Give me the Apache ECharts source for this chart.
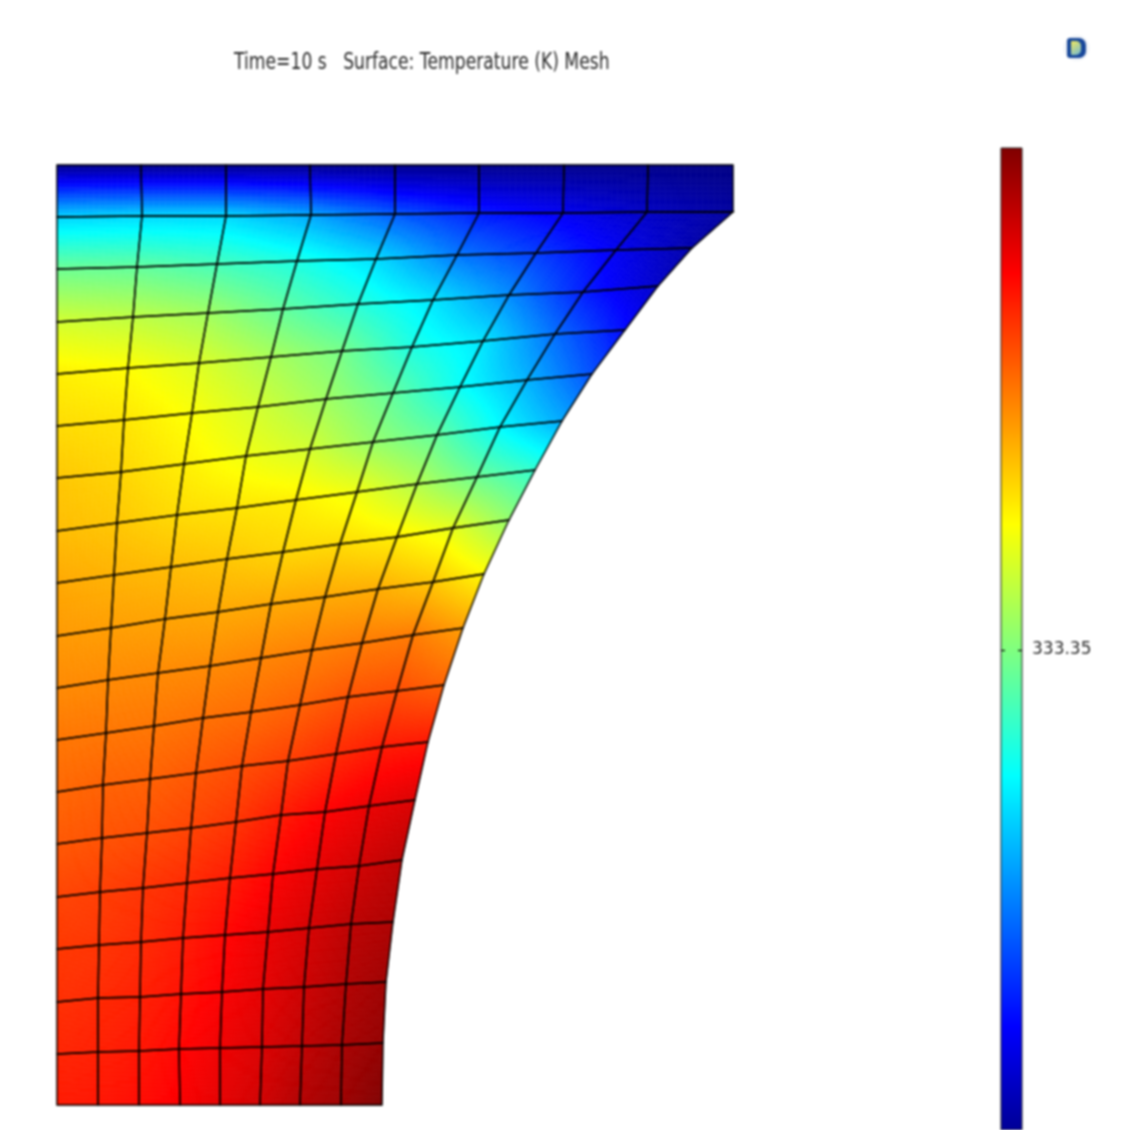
<!DOCTYPE html>
<html>
<head>
<meta charset="utf-8">
<style>html,body{margin:0;padding:0;background:#fff;overflow:hidden}#c{width:1135px;height:1130px;filter:blur(0.8px)}</style>
<script src="https://cdn.jsdelivr.net/npm/echarts@6/dist/echarts.min.js"></script>
</head>
<body>
<div id="c"></div>
<script>
const titleText = 'Time=10 s   Surface: Temperature (K) Mesh';
const colorbarTicks = [333.35];
const tempMin = 283.35, tempMax = 383.35;   // range of the colour scale
const barVisibleMin = 285.55;               // the bar is cut by the page edge here

// mesh node positions, row by row from the top edge, 9 nodes per row
const nodeX = [
[0,84,169,253,338,422,507,591,676],
[0,85,169,254,338,422,506,590,676],
[0,80,160,240,319,400,479,559,635],
[0,76,151,226,301,376,452,526,601],
[0,71,142,214,285,355,426,498,568],
[0,67,135,201,269,336,403,470,535],
[0,64,127,189,253,316,380,443,505],
[0,60,120,180,239,300,360,420,478],
[0,57,114,170,226,283,340,396,452],
[0,54,108,161,214,268,321,376,427],
[0,51,101,153,204,255,305,356,406],
[0,49,97,146,194,243,291,340,387],
[0,46,93,139,185,231,279,325,371],
[0,45,90,134,179,224,268,312,358],
[0,43,86,130,173,216,260,302,345],
[0,42,84,126,168,211,252,294,336],
[0,41,83,124,165,206,247,289,329],
[0,41,82,122,163,205,245,285,326],
[0,41,82,123,163,203,243,284,325]
];
const nodeY = [
[940,940,940,940,940,940,940,940,940],
[888,889,889,890,891,892,892,893,893],
[836,838,841,844,846,850,852,855,857],
[783,788,792,796,801,805,810,813,819],
[731,737,742,748,754,758,764,771,775],
[679,685,692,698,706,712,718,725,731],
[627,633,641,649,656,663,670,678,684],
[574,582,590,597,605,613,621,628,635],
[522,530,538,546,553,561,568,577,585],
[469,477,486,493,501,508,516,523,531],
[417,425,432,439,447,455,462,470,477],
[365,372,379,387,393,400,408,414,420],
[313,320,326,332,339,344,351,358,363],
[261,267,272,277,283,290,293,299,305],
[208,213,217,222,227,231,236,239,245],
[156,160,163,167,170,173,177,181,183],
[103,107,108,111,113,116,118,121,123],
[51,53,54,56,57,58,59,60,62],
[0,0,0,0,0,0,0,0,0]
];
// temperature at each node (K)
const nodeT = [
[284.4,284.4,284.4,284.4,284.4,284.4,284.4,284.4,283.9],
[316.4,316.9,316.9,311.9,304.4,298.4,294.4,289.9,286.4],
[331.4,330.4,327.4,323.4,317.4,307.4,301.4,294.4,287.4],
[341.4,339.4,336.4,330.4,324.4,318.4,309.4,298.4,290.4],
[347.4,345.9,342.4,337.4,332.4,323.4,318.4,306.4,296.4],
[349.4,348.4,345.4,341.4,336.4,330.4,321.4,313.4,303.4],
[351.4,349.9,347.4,344.4,341.4,335.4,330.4,320.4,312.4],
[352.4,351.4,349.4,348.4,347.4,344.4,338.4,331.4,325.4],
[354.4,353.4,352.4,351.4,349.9,349.4,347.4,343.4,335.4],
[355.9,355.4,354.9,354.4,354.4,354.4,353.9,351.4,346.4],
[357.4,357.4,357.4,357.4,357.9,358.4,358.9,358.9,355.4],
[359.4,359.4,359.4,359.9,360.4,361.4,362.9,363.4,361.4],
[360.9,361.4,361.4,362.4,363.4,364.9,366.9,368.4,368.9],
[362.4,362.9,363.4,364.4,365.9,368.4,370.9,372.9,374.4],
[364.4,364.9,365.9,366.9,368.4,370.9,373.4,375.4,377.4],
[365.4,365.9,366.9,368.4,370.4,372.9,374.9,377.4,378.9],
[366.4,366.9,367.9,369.4,371.4,373.4,375.9,378.4,380.4],
[367.4,367.9,368.9,370.4,372.4,374.4,376.9,379.4,381.4],
[368.4,368.9,369.9,371.4,373.4,375.4,378.4,380.4,383.35]
];
// rainbow colour scale: position in range and RGB
const scaleStops = [0, 0.125, 0.375, 0.625, 0.875, 1];
const scaleRGB = [[0,0,128],[0,0,255],[0,255,255],[255,255,0],[255,0,0],[128,0,0]];

function rgbAt(f) {
  f = Math.min(1, Math.max(0, f));
  let i = 0;
  while (i < scaleStops.length - 2 && f > scaleStops[i + 1]) i++;
  const k = (f - scaleStops[i]) / (scaleStops[i + 1] - scaleStops[i]);
  const a = scaleRGB[i], b = scaleRGB[i + 1];
  return 'rgb(' + [0,1,2].map(j => Math.round(a[j] + (b[j] - a[j]) * k)).join(',') + ')';
}
const colorOf = t => rgbAt((t - tempMin) / (tempMax - tempMin));

const cells = [];
for (let r = 0; r < nodeX.length - 1; r++)
  for (let c = 0; c < nodeX[0].length - 1; c++) cells.push([r, c]);

function bilinear(tbl, r, c, u, v) {
  return (1-u)*(1-v)*tbl[r][c] + u*(1-v)*tbl[r][c+1] + (1-u)*v*tbl[r+1][c] + u*v*tbl[r+1][c+1];
}
const SUB = 14;
function renderFill(params, api) {
  const r = api.value(0), c = api.value(1), children = [];
  for (let i = 0; i < SUB; i++) for (let j = 0; j < SUB; j++) {
    const u0 = j/SUB, u1 = (j+1)/SUB, v0 = i/SUB, v1 = (i+1)/SUB;
    const corner = (u, v) => api.coord([bilinear(nodeX, r, c, u, v), bilinear(nodeY, r, c, u, v)]);
    const col = colorOf(bilinear(nodeT, r, c, (u0+u1)/2, (v0+v1)/2));
    children.push({
      type: 'polygon', silent: true,
      shape: { points: [corner(u0,v0), corner(u1,v0), corner(u1,v1), corner(u0,v1)] },
      style: { fill: col, stroke: col, lineWidth: 0.6 }
    });
  }
  return { type: 'group', children };
}
function renderMesh(params, api) {
  const r = api.value(0), c = api.value(1);
  return {
    type: 'polygon', silent: true,
    shape: { points: [[r,c],[r,c+1],[r+1,c+1],[r+1,c]].map(p => api.coord([nodeX[p[0]][p[1]], nodeY[p[0]][p[1]]])) },
    style: { fill: 'none', stroke: '#000000', lineWidth: 1.4 }
  };
}
function renderBar(params, api) {
  const a = api.coord([0, api.value(1)]), b = api.coord([1, api.value(0)]);
  const barStops = [barVisibleMin].concat(scaleStops.map(f => tempMin + f * (tempMax - tempMin)).filter(t => t > barVisibleMin));
  const colorStops = barStops.map(t => ({
    offset: 1 - (t - barVisibleMin) / (tempMax - barVisibleMin), color: colorOf(t)
  }));
  const children = [{
    type: 'rect',
    shape: { x: a[0], y: a[1], width: b[0] - a[0], height: b[1] - a[1] },
    style: {
      fill: new echarts.graphic.LinearGradient(0, 0, 0, 1, colorStops),
      stroke: '#222222', lineWidth: 1
    }
  }];
  colorbarTicks.forEach(t => {
    const y = Math.round(api.coord([0, t])[1]) + 0.5;
    [[a[0], a[0] + 4], [b[0] - 4, b[0]]].forEach(s => children.push({
      type: 'line', shape: { x1: s[0], y1: y, x2: s[1], y2: y },
      style: { stroke: '#000000', lineWidth: 1.2 }
    }));
  });
  return { type: 'group', children };
}

const chart = echarts.init(document.getElementById('c'), null, { renderer: 'canvas' });
const hidden = { axisLine:{show:false}, axisTick:{show:false}, axisLabel:{show:false}, splitLine:{show:false} };
chart.setOption({
  animation: false,
  backgroundColor: '#ffffff',
  grid: [
    { left: 57, top: 165, width: 676, height: 940 },
    { left: 1001, top: 148, width: 21, height: 982 }
  ],
  xAxis: [
    Object.assign({ type:'value', gridIndex:0, min:0, max:676 }, hidden),
    Object.assign({ type:'value', gridIndex:1, min:0, max:1 }, hidden)
  ],
  yAxis: [
    Object.assign({ type:'value', gridIndex:0, min:0, max:940 }, hidden),
    { type:'value', gridIndex:1, min:barVisibleMin, max:tempMax, position:'right', z:5,
      axisLine:{show:false}, splitLine:{show:false}, axisTick:{show:false},
      axisLabel:{show:true, customValues:colorbarTicks, margin:10, formatter:v=>v.toFixed(2),
        color:'#2a2a2a', fontFamily:'DejaVu Sans', fontSize:17, padding:[7,0,0,0]} }
  ],
  series: [
    { type:'custom', name:'Temperature', xAxisIndex:0, yAxisIndex:0, renderItem:renderFill, data:cells, z:2, silent:true },
    { type:'custom', name:'Mesh', xAxisIndex:0, yAxisIndex:0, renderItem:renderMesh, data:cells, z:3, silent:true },
    { type:'custom', name:'Colour bar', xAxisIndex:1, yAxisIndex:1, renderItem:renderBar, data:[[barVisibleMin, tempMax]], z:2, silent:true }
  ],
  graphic: [
    { type:'text', x:234, y:52, silent:true, scaleY:1.3,
      style:{ text:titleText, fill:'#2a2a2a', font:'17.2px "DejaVu Sans"' } },
    { type:'group', x:1067, y:38, silent:true, children:[
      { type:'circle', shape:{cx:9.5,cy:10,r:13}, style:{fill:'#e6ebf2', opacity:0.55} },
      { type:'rect', shape:{x:0,y:0,width:19,height:20,r:[3,7,7,3]}, style:{fill:'#17479a'} },
      { type:'rect', shape:{x:4,y:3,width:10,height:14,r:[1,5,5,1]},
        style:{fill:new echarts.graphic.LinearGradient(0,0,1,1,[{offset:0,color:'#f2e85a'},{offset:1,color:'#6fb8d8'}])} }
    ]}
  ]
});
</script>
</body>
</html>
